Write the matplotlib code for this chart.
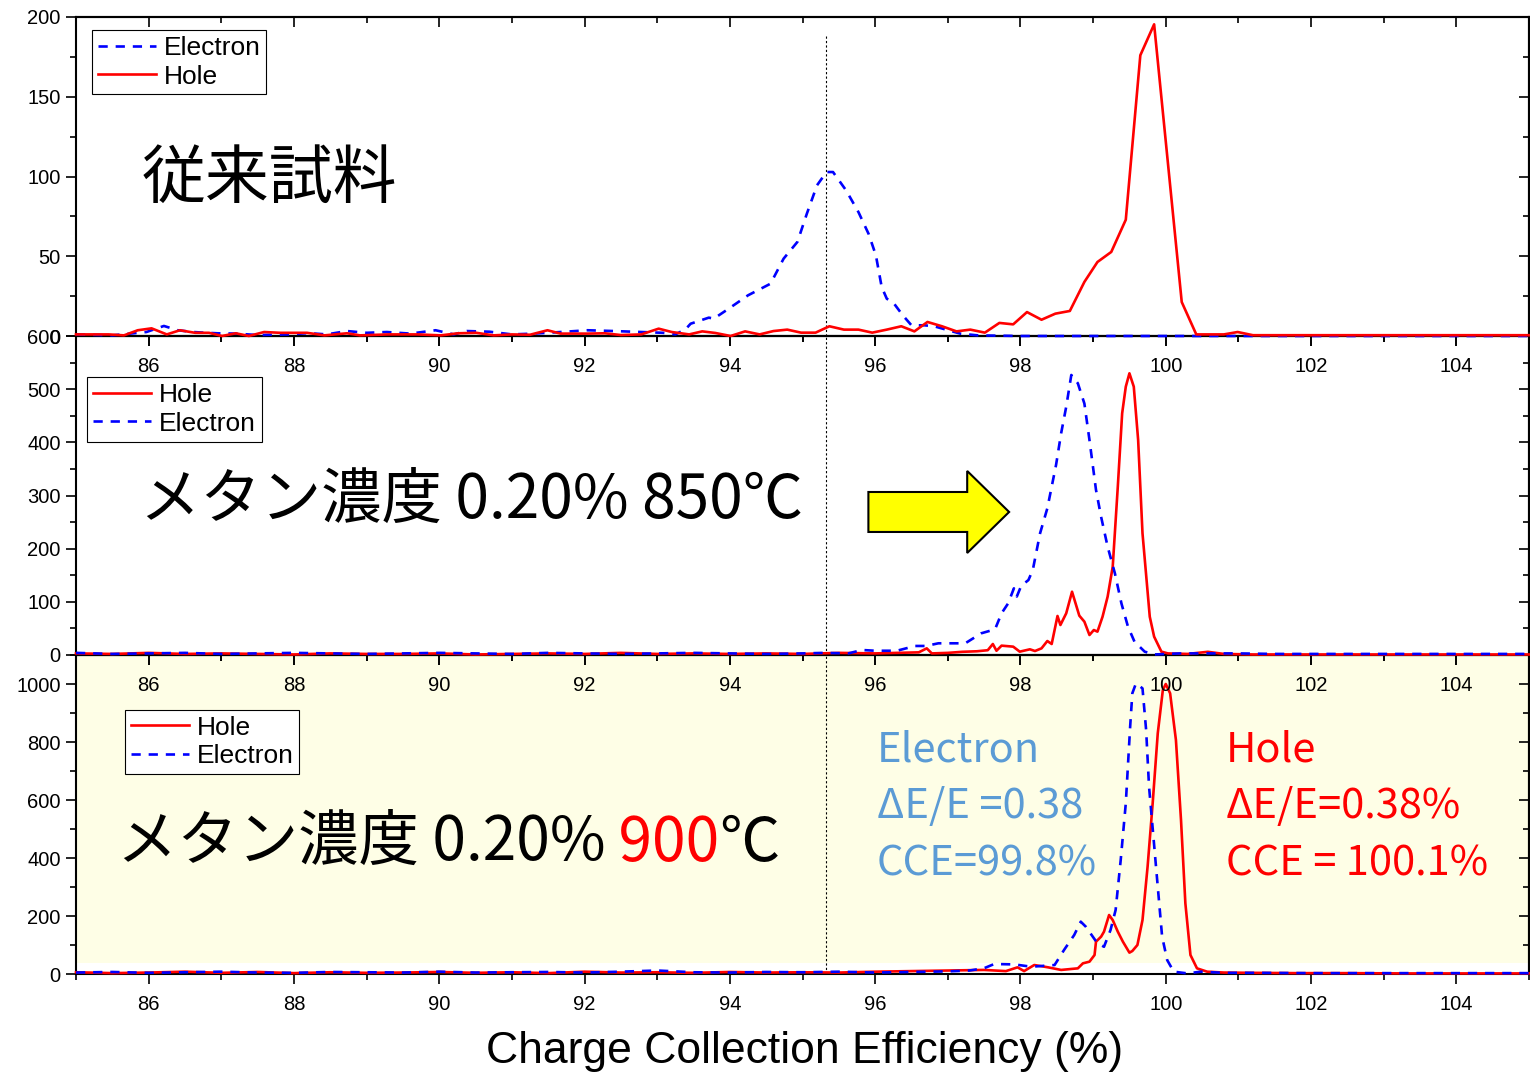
import matplotlib
matplotlib.use("Agg")
import matplotlib.pyplot as plt
from matplotlib.patches import Rectangle, FancyArrow
from matplotlib.lines import Line2D
from matplotlib.ticker import MultipleLocator

# ---- data (CCE %, counts) ----
top_hole_x = [
    85.0, 85.2, 85.45, 85.66, 85.85, 86.04, 86.25, 86.43, 86.64, 86.83,
    87.01, 87.2, 87.38, 87.59, 87.81, 88.0, 88.18, 88.42, 88.73, 88.91,
    89.3, 89.7, 90.02, 90.26, 90.51, 90.75, 91.0, 91.25, 91.49, 91.67,
    92.04, 92.28, 92.5, 92.78, 93.02, 93.2, 93.44, 93.62, 93.80, 94.01,
    94.21, 94.41, 94.60, 94.79, 94.98, 95.18, 95.37, 95.57, 95.77, 95.96,
    96.16, 96.36, 96.54, 96.72, 96.92, 97.12, 97.31, 97.51, 97.71, 97.90,
    98.09, 98.29, 98.48, 98.68, 98.88, 99.06, 99.25, 99.45, 99.65, 99.84,
    100.22, 100.42, 100.60, 100.80, 100.99, 101.2, 101.6, 102.0, 102.5, 103.0,
    103.5, 104.0, 104.5, 105.0,
]
top_hole_y = [
    1, 1, 1, 0.4, 3.6, 4.8, 1, 3.6, 2, 2,
    0, 1.7, 0, 2.5, 2, 2, 2, 0.4, 1.7, 0.4,
    1, 1, 0.4, 1.7, 2, 0.4, 1, 0.8, 3.6, 1.5,
    1.5, 1.7, 0.6, 1, 4.6, 2.5, 1, 2.9, 1.9, 0,
    2.9, 1, 3.1, 4, 2.1, 2.1, 6.1, 4, 4, 2.1,
    4, 6.1, 2.9, 8.8, 6.1, 2.9, 4, 2.1, 8.2, 7.3,
    15, 10.2, 14, 15.7, 33.9, 46.4, 52.7, 72.9, 176, 195.4,
    21.3, 1, 1, 1, 2.5, 0.5, 0.5, 0.5, 0.5, 0.5,
    0.5, 0.5, 0.5, 0.5,
]
top_elec_x = [
    85.0, 85.5, 85.97, 86.21, 86.4, 86.61, 86.8, 86.95, 87.2, 87.5,
    87.93, 88.2, 88.45, 88.73, 89.0, 89.28, 89.6, 89.95, 90.2, 90.38,
    90.69, 91.0, 91.3, 91.67, 92.04, 92.41, 92.78, 93.08, 93.25, 93.39,
    93.46, 93.71, 93.78, 93.98, 94.25, 94.56, 94.74, 94.93, 95.06, 95.20,
    95.33, 95.42, 95.60, 95.77, 95.91, 96.01, 96.09, 96.16, 96.26, 96.38,
    96.50, 96.68, 96.82, 97.17, 97.41, 98.0, 99.0, 100.0, 101.0, 102.0,
    103.0, 104.0, 105.0,
]
top_elec_y = [
    1, 0.4, 2.5, 6.3, 3.6, 2.5, 2, 1.7, 1.5, 0.6,
    1, 1.8, 1, 3.1, 2, 2.5, 1.5, 3.6, 1, 3.1,
    2.7, 1, 1.5, 2.5, 3.6, 3.1, 2.5, 2, 1, 4.2,
    7.7, 11.5, 10.9, 17, 25.5, 32.8, 48.5, 59, 76.7, 94.5,
    102.8, 102.8, 91.3, 77.7, 64, 50.6, 30.7, 23.4, 20.3, 13,
    6.7, 6.7, 6, 1.5, 0.4, 0, 0, 0, 0, 0,
    0, 0, 0,
]

mid_hole_x = [
    85.0, 85.5, 86.0, 86.5, 87.0, 87.5, 88.0, 88.5, 89.0, 89.5,
    90.0, 90.5, 91.0, 91.5, 92.0, 92.5, 93.0, 93.5, 94.0, 94.5,
    95.0, 95.5, 96.0, 96.3, 96.6, 96.71, 96.78, 97.0, 97.2, 97.4,
    97.55, 97.62, 97.67, 97.74, 97.90, 97.99, 98.13, 98.2, 98.29, 98.37,
    98.43, 98.51, 98.55, 98.63, 98.71, 98.81, 98.88, 98.95, 99.01, 99.06,
    99.13, 99.20, 99.27, 99.34, 99.40, 99.45, 99.50, 99.56, 99.62, 99.68,
    99.78, 99.84, 99.94, 100.03, 100.3, 100.58, 100.8, 101.2, 101.8, 102.5,
    103.2, 104.0, 104.6, 105.0,
]
mid_hole_y = [
    3, 2, 4, 2, 3, 2, 1, 3, 2, 2,
    3, 1, 2, 3, 2, 4, 2, 3, 2, 3,
    2, 4, 3, 4, 5, 12.5, 3, 4, 6, 7,
    9, 20.7, 8, 17.6, 15.7, 6.3, 10.7, 7.5, 12.5, 26.3,
    20.7, 73.4, 56.4, 78.4, 119, 74, 62.7, 37.6, 47, 43.9,
    72, 109.7, 166, 316.6, 454.6, 504.7, 529.8, 504.7, 404.4, 228.9,
    72, 34.5, 6.3, 3, 2, 6, 2, 1, 1, 1,
    1, 1, 1, 1,
]
mid_elec_x = [
    85.0, 85.5, 86.0, 86.5, 87.0, 87.5, 88.0, 88.5, 89.0, 89.5,
    90.0, 90.5, 91.0, 91.5, 92.0, 92.5, 93.0, 93.5, 94.0, 94.5,
    95.0, 95.3, 95.63, 95.82, 96.0, 96.3, 96.55, 96.7, 96.87, 97.24,
    97.46, 97.65, 97.74, 97.83, 97.91, 97.95, 98.01, 98.11, 98.17, 98.27,
    98.37, 98.43, 98.49, 98.56, 98.63, 98.70, 98.79, 98.88, 98.95, 99.04,
    99.11, 99.20, 99.30, 99.39, 99.48, 99.57, 99.71, 99.84, 100.2, 100.6,
    101.0, 101.5, 102.0, 103.0, 104.0, 105.0,
]
mid_elec_y = [
    4, 2, 3, 4, 2, 3, 4, 3, 2, 3,
    4, 3, 2, 4, 3, 2, 3, 4, 3, 2,
    3, 4, 3, 9.4, 8, 8, 17, 17, 22, 22,
    40.8, 48.3, 78.4, 97, 125.4, 110, 130, 141, 160, 228.9,
    275.9, 316.6, 357.4, 417, 467, 526.7, 511, 473, 404.4, 310.4,
    260, 203.8, 153.6, 97, 53.3, 25, 6.3, 1, 3, 3,
    3, 2, 2, 2, 2, 2,
]

bot_hole_x = [
    85.0, 85.5, 86.0, 86.5, 87.0, 87.5, 88.0, 88.5, 89.0, 89.5,
    90.0, 90.5, 91.0, 91.5, 92.0, 92.5, 93.0, 93.5, 94.0, 94.5,
    95.0, 95.5, 96.0, 96.5, 97.0, 97.5, 97.8, 97.96, 98.05, 98.19,
    98.38, 98.56, 98.79, 98.86, 98.95, 99.02, 99.04, 99.11, 99.15, 99.22,
    99.27, 99.34, 99.41, 99.50, 99.54, 99.61, 99.68, 99.75, 99.82, 99.89,
    99.96, 100.0, 100.06, 100.14, 100.21, 100.27, 100.34, 100.43, 100.57, 100.8,
    101.2, 101.8, 102.5, 103.3, 104.0, 104.6, 105.0,
]
bot_hole_y = [
    6, 3, 5, 8, 4, 7, 3, 6, 4, 5,
    7, 4, 6, 3, 8, 5, 6, 4, 7, 5,
    6, 5, 8, 10, 12, 14, 10, 23, 10, 31,
    23, 14, 19.5, 36.8, 42.5, 65.5, 111.5, 128.7, 146, 203.4,
    186, 146, 111.5, 73.6, 79.3, 100, 186, 370, 588.5, 830,
    979, 1000, 968, 807, 531, 243.7, 65.5, 19.5, 8, 5,
    4, 3, 3, 2, 2, 2, 2,
]
bot_elec_x = [
    85.0, 85.5, 86.0, 86.5, 87.0, 87.5, 88.0, 88.5, 89.0, 89.5,
    90.0, 90.5, 91.0, 91.5, 92.0, 92.5, 93.0, 93.5, 94.0, 94.5,
    95.0, 95.5, 96.0, 96.5, 97.0, 97.3, 97.5, 97.64, 97.92, 98.15,
    98.47, 98.60, 98.74, 98.83, 98.9, 99.06, 99.15, 99.24, 99.31, 99.38,
    99.45, 99.51, 99.54, 99.59, 99.68, 99.73, 99.77, 99.83, 99.89, 99.95,
    100.02, 100.11, 100.3, 100.48, 100.8, 101.3, 102.0, 103.0, 104.0, 105.0,
]
bot_elec_y = [
    5, 7, 4, 6, 8, 5, 4, 7, 6, 5,
    8, 5, 6, 7, 5, 8, 12, 6, 5, 7,
    6, 8, 5, 7, 9, 12, 20, 34.5, 33, 25,
    31, 82.8, 134.5, 180.5, 163, 105.7, 94, 151.7, 220.7, 393,
    588.5, 853, 968, 1002, 985, 841, 646, 473.6, 301, 128.7,
    48, 8, 2, 8, 4, 4, 3, 3, 3, 3,
]

REF_LINE_X = 95.32
HOLE = "#ff0000"
ELEC = "#0000ff"
NOTE_BLUE = "#5b9bd5"
JP = ["Noto Sans CJK JP", "DejaVu Sans"]

plt.rcParams["font.family"] = ["Liberation Sans", "DejaVu Sans"]
plt.rcParams["axes.linewidth"] = 1.5

fig = plt.figure(figsize=(15.3, 10.74), dpi=100)
L, W, H = 76 / 1530, 1453 / 1530, 319 / 1074
# bottom panel created first so the upper panels' tick labels draw on top of it
ax3 = fig.add_axes([L, 1 - 974 / 1074, W, H])
ax2 = fig.add_axes([L, 1 - 655 / 1074, W, H])
ax1 = fig.add_axes([L, 1 - 336 / 1074, W, H])


def style(ax, ymax, ymaj, ymin):
    ax.set_facecolor("none")
    ax.set_xlim(85, 105)
    ax.set_ylim(0, ymax)
    ax.xaxis.set_major_locator(MultipleLocator(2))
    ax.xaxis.set_minor_locator(MultipleLocator(1))
    ax.yaxis.set_major_locator(MultipleLocator(ymaj))
    ax.yaxis.set_minor_locator(MultipleLocator(ymin))
    ax.tick_params(which="both", direction="out", width=1.2, top=False, right=False,
                   labelsize=14.5)
    ax.tick_params(which="major", length=7)
    ax.tick_params(which="minor", length=4)
    ax.tick_params(axis="x", pad=8)
    ax.tick_params(axis="y", pad=4)
    top = ax.secondary_xaxis("top")
    top.xaxis.set_major_locator(MultipleLocator(2))
    top.xaxis.set_minor_locator(MultipleLocator(1))
    top.tick_params(which="both", direction="in", width=1.2, labeltop=False)
    top.tick_params(which="major", length=7)
    top.tick_params(which="minor", length=4)
    right = ax.secondary_yaxis("right")
    right.yaxis.set_major_locator(MultipleLocator(ymaj))
    right.yaxis.set_minor_locator(MultipleLocator(ymin))
    right.tick_params(which="both", direction="in", width=1.2, labelright=False)
    right.tick_params(which="major", length=7)
    right.tick_params(which="minor", length=4)


def curves(ax, order, data):
    for name in order:
        x, y = data[name]
        if name == "Hole":
            ax.plot(x, y, color=HOLE, lw=1.9, zorder=3, clip_on=False, label=name)
        else:
            ax.plot(x, y, color=ELEC, lw=1.9, ls=(0, (3.5, 3)), zorder=3,
                    clip_on=False, label=name)


def legend(ax, order, anchor):
    handles = []
    for name in order:
        if name == "Hole":
            handles.append(Line2D([], [], color=HOLE, lw=1.9))
        else:
            handles.append(Line2D([], [], color=ELEC, lw=1.9, ls=(0, (3.5, 3))))
    leg = ax.legend(handles, order, loc="upper left", bbox_to_anchor=anchor,
                    borderaxespad=0, fancybox=False, edgecolor="black", framealpha=1,
                    prop={"family": "Liberation Sans", "size": 19}, handlelength=2.2,
                    handletextpad=0.3, labelspacing=0.18, borderpad=0.22)
    leg.get_frame().set_linewidth(0.8)
    leg.set_zorder(5)


# top panel: conventional sample
style(ax1, 200, 50, 25)
curves(ax1, ["Electron", "Hole"],
       {"Electron": (top_elec_x, top_elec_y), "Hole": (top_hole_x, top_hole_y)})
legend(ax1, ["Electron", "Hole"], (0.011, 0.959))
ax1.axvline(REF_LINE_X, ymax=0.943, color="black", lw=0.8, ls=(0, (2, 2)), zorder=2)
ax1.text(0.045, 0.49, "従来試料", transform=ax1.transAxes, fontsize=46,
         family=JP, va="center", ha="left")

# middle panel: 850 C
style(ax2, 600, 100, 50)
curves(ax2, ["Hole", "Electron"],
       {"Electron": (mid_elec_x, mid_elec_y), "Hole": (mid_hole_x, mid_hole_y)})
legend(ax2, ["Hole", "Electron"], (0.0076, 0.871))
ax2.axvline(REF_LINE_X, color="black", lw=0.8, ls=(0, (2, 2)), zorder=2)
ax2.text(0.044, 0.48, "メタン濃度 0.20% 850℃", transform=ax2.transAxes, fontsize=43.5,
         family=JP, va="center", ha="left")
ax2.add_patch(FancyArrow(95.907, 269, 1.937, 0, width=75.2, head_width=154.3,
                         head_length=0.577, length_includes_head=True,
                         fc="#ffff00", ec="black", lw=1.5, zorder=4))

# bottom panel: 900 C
style(ax3, 1100, 200, 100)
ax3.add_patch(Rectangle((0, 0.0345), 1, 0.9655, transform=ax3.transAxes,
                        fc="#fefee6", ec="none", zorder=0))
curves(ax3, ["Hole", "Electron"],
       {"Electron": (bot_elec_x, bot_elec_y), "Hole": (bot_hole_x, bot_hole_y)})
legend(ax3, ["Hole", "Electron"], (0.0337, 0.828))
ax3.axvline(REF_LINE_X, color="black", lw=0.8, ls=(0, (2, 2)), zorder=2)
t1 = ax3.text(0.028, 0.31, "メタン濃度 0.20%", transform=ax3.transAxes, fontsize=43.5,
              family=JP, va="bottom", ha="left")
t2 = ax3.annotate(" 900", xy=(1, 0), xycoords=t1, fontsize=43.5, family=JP,
                  color=HOLE, va="bottom", ha="left")
ax3.annotate("℃", xy=(1, 0), xycoords=t2, fontsize=43.5, family=JP,
             color="black", va="bottom", ha="left")

for txt, yy in zip(["Electron", "ΔE/E =0.38", "CCE=99.8%"], [0.702, 0.524, 0.345]):
    ax3.text(0.551, yy, txt, transform=ax3.transAxes, fontsize=30, family=JP,
             color=NOTE_BLUE, va="center", ha="left")
for txt, yy in zip(["Hole", "ΔE/E=0.38%", "CCE = 100.1%"], [0.702, 0.524, 0.345]):
    ax3.text(0.7915, yy, txt, transform=ax3.transAxes, fontsize=30, family=JP,
             color=HOLE, va="center", ha="left")

fig.text(0.5258, 1 - 1052 / 1074, "Charge Collection Efficiency (%)", fontsize=32,
         ha="center", va="center")

fig.savefig("out.png", dpi=100)
